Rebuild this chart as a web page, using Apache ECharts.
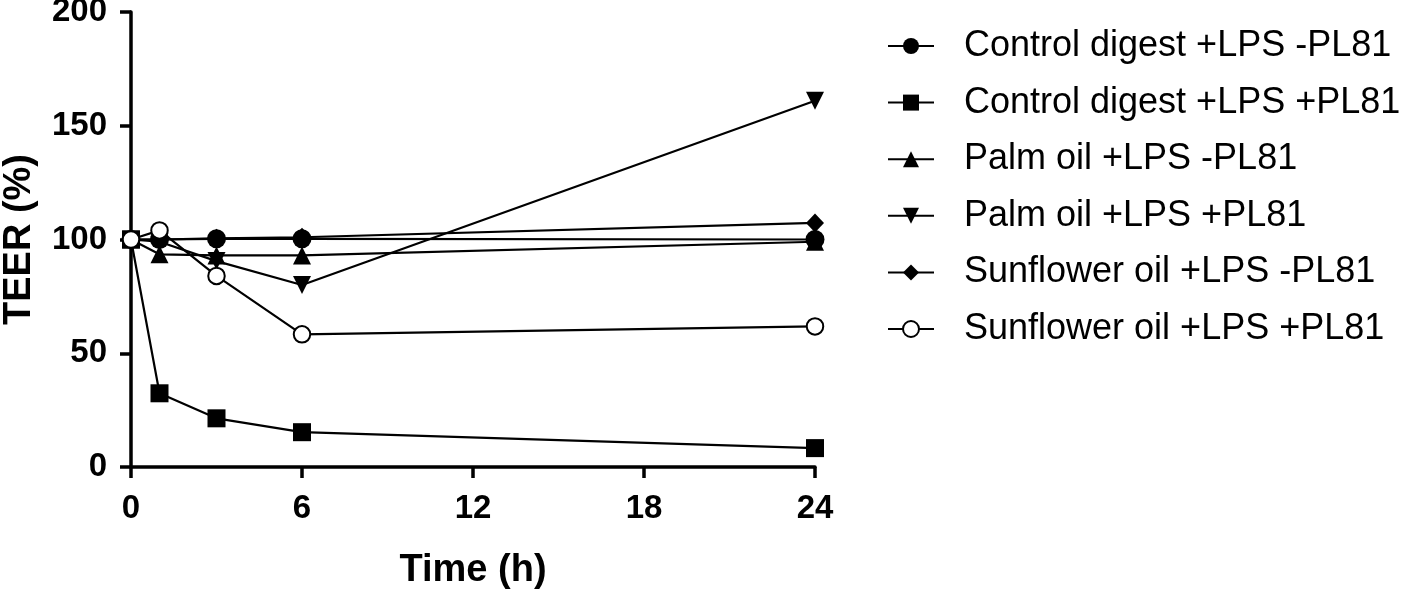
<!DOCTYPE html>
<html>
<head>
<meta charset="utf-8">
<script src="https://cdn.jsdelivr.net/npm/echarts@6/dist/echarts.min.js"></script>
<style>
html,body{margin:0;padding:0;background:#fff;}
#chart{width:1416px;height:595px;}
</style>
</head>
<body>
<div id="chart"></div>
<script>
const timePoints = [0, 1, 3, 6, 24];
const controlMinus = [100, 100, 100.3, 100.3, 100];
const controlPlus = [100, 32.4, 21.4, 15.3, 8.3];
const palmMinus = [100, 93.5, 93, 93, 99];
const palmPlus = [100, 99, 90.5, 80, 161];
const sunMinus = [100, 100, 100.5, 101, 107.3];
const sunPlus = [100, 104, 84, 58.3, 61.8];
const seriesNames = [
  'Control digest +LPS -PL81',
  'Control digest +LPS +PL81',
  'Palm oil +LPS -PL81',
  'Palm oil +LPS +PL81',
  'Sunflower oil +LPS -PL81',
  'Sunflower oil +LPS +PL81'
];
const xTicks = [0, 6, 12, 18, 24];
const yTicks = [0, 50, 100, 150, 200];

const seriesValues = [controlMinus, controlPlus, palmMinus, palmPlus, sunMinus, sunPlus];
const symbols = [
  {symbol: 'circle', size: 19},
  {symbol: 'rect', size: 18},
  {symbol: 'triangle', size: 18},
  {symbol: 'triangle', size: 18, rotate: 180},
  {symbol: 'diamond', size: [18, 19]},
  {symbol: 'emptyCircle', size: 16.5}
];

const chart = echarts.init(document.getElementById('chart'), null, {renderer: 'canvas'});
const font = 'Liberation Sans, Arial, sans-serif';

const series = seriesNames.map((name, i) => ({
  name: name,
  type: 'line',
  data: timePoints.map((t, j) => [t, seriesValues[i][j]]),
  symbol: symbols[i].symbol,
  symbolSize: symbols[i].size,
  symbolRotate: symbols[i].rotate || 0,
  showAllSymbol: true,
  lineStyle: {color: '#000', width: 2.2},
  itemStyle: {color: '#000', borderColor: '#000', borderWidth: i === 5 ? 4 : 0},
  emphasis: {disabled: true},
  animation: false,
  z: 2
}));

chart.setOption({
  backgroundColor: '#fff',
  animation: false,
  grid: {left: 131, right: 601, top: 12, bottom: 128, containLabel: false, outerBoundsMode: 'none'},
  xAxis: {
    type: 'value',
    min: xTicks[0], max: xTicks[xTicks.length - 1], interval: 6,
    name: 'Time (h)', nameLocation: 'middle', nameGap: 85,
    nameTextStyle: {fontFamily: font, fontWeight: 'bold', fontSize: 38, color: '#000'},
    axisLine: {show: true, lineStyle: {color: '#000', width: 3.5}},
    axisTick: {show: true, length: 11, lineStyle: {color: '#000', width: 3.5}},
    axisLabel: {margin: 25, fontFamily: font, fontWeight: 'bold', fontSize: 33, color: '#000'},
    splitLine: {show: false}
  },
  yAxis: {
    type: 'value',
    min: yTicks[0], max: yTicks[yTicks.length - 1], interval: 50,
    name: 'TEER (%)', nameLocation: 'middle', nameGap: 92, nameRotate: 90,
    nameTextStyle: {fontFamily: font, fontWeight: 'bold', fontSize: 38, color: '#000'},
    axisLine: {show: true, lineStyle: {color: '#000', width: 3.5}},
    axisTick: {show: true, length: 11, lineStyle: {color: '#000', width: 3.5}},
    axisLabel: {margin: 24, fontFamily: font, fontWeight: 'bold', fontSize: 33, color: '#000'},
    splitLine: {show: false}
  },
  legend: {
    orient: 'vertical',
    left: 887, top: 26,
    padding: 0,
    itemWidth: 46, itemHeight: 20,
    itemGap: 16.6,
    selectedMode: false,
    data: seriesNames,
    textStyle: {fontFamily: font, fontSize: 36, color: '#000', lineHeight: 40, padding: [0, 0, 0, 25]}
  },
  series: series
});
</script>
</body>
</html>
